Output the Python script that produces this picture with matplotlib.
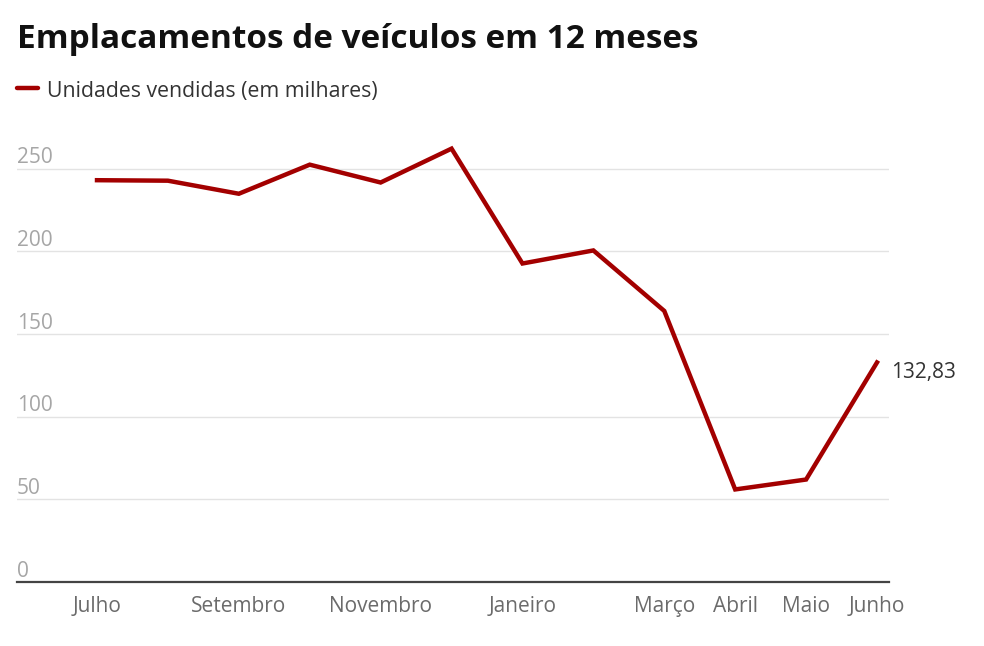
import matplotlib.pyplot as plt
import matplotlib.transforms as mtransforms

plt.rcParams['font.family'] = ['Open Sans', 'DejaVu Sans']

# dados (milhares de unidades)
meses = ['Julho', 'Agosto', 'Setembro', 'Outubro', 'Novembro', 'Dezembro',
         'Janeiro', 'Fevereiro', 'Março', 'Abril', 'Maio', 'Junho']
rotulos = ['Julho', '', 'Setembro', '', 'Novembro', '',
           'Janeiro', '', 'Março', 'Abril', 'Maio', 'Junho']
unidades = [243.1, 242.8, 234.9, 252.5, 241.7, 262.2,
            192.7, 200.6, 164.0, 56.0, 62.0, 132.83]
yticks = [0, 50, 100, 150, 200, 250]

vermelho = '#a30000'

fig = plt.figure(figsize=(9.84, 6.46), dpi=100)
ax = fig.add_axes([17 / 984, (646 - 582) / 646, (889 - 17) / 984, (582 - 144) / 646])

x = list(range(len(meses)))
ax.plot(x, unidades, color=vermelho, lw=3.2, solid_joinstyle='miter', zorder=3)

ax.set_xlim(-80 / 70.9, 11 + 12 / 70.9)
ax.set_ylim(0, 265)

# grade e rótulos do eixo y acima das linhas
for v in yticks[1:]:
    ax.axhline(v, color='#e3e3e3', lw=1, zorder=1)
trans = mtransforms.blended_transform_factory(ax.transAxes, ax.transData)
for v in yticks:
    ax.text(0, v + 0.3, str(v), transform=trans, ha='left', va='bottom',
            fontsize=15, color='#a6a6a6')

ax.set_xticks(x)
ax.set_xticklabels(rotulos, fontsize=15, color='#6b6b6b')
ax.tick_params(axis='x', length=0, pad=10)
ax.set_yticks([])

for s in ['top', 'right', 'left']:
    ax.spines[s].set_visible(False)
ax.spines['bottom'].set_color('#444444')
ax.spines['bottom'].set_linewidth(1.6)

ax.annotate('132,83', (x[-1], unidades[-1]), xytext=(10, 0),
            textcoords='offset points', ha='left', va='top',
            fontsize=15, color='#333333')

# título e legenda
fig.text(17 / 984, 1 - 39 / 646, 'Emplacamentos de veículos em 12 meses',
         fontsize=24, fontweight='bold', color='#111111', va='center', ha='left')
fig.add_artist(plt.Line2D([17 / 984, 38 / 984], [1 - 88 / 646, 1 - 88 / 646],
                          color=vermelho, lw=3.2, solid_capstyle='round'))
fig.text(47 / 984, 1 - 92 / 646, 'Unidades vendidas (em milhares)',
         fontsize=15.3, color='#333333', va='center', ha='left')

fig.savefig('out.png', dpi=100, facecolor='white')
